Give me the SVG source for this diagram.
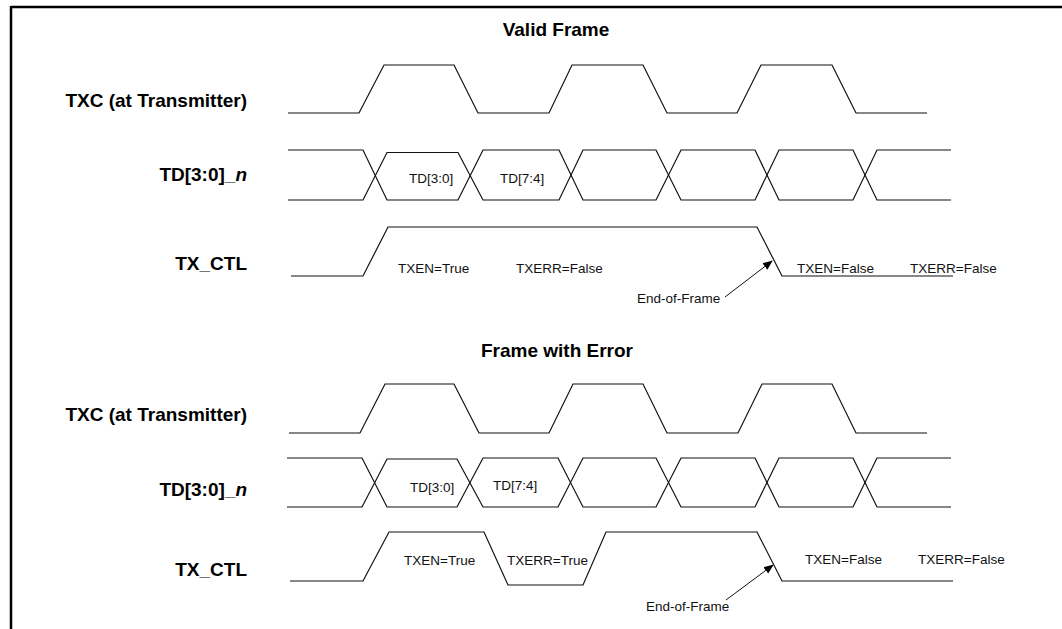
<svg xmlns="http://www.w3.org/2000/svg" width="1062" height="629" viewBox="0 0 1062 629">
<defs>
<style>
.w{fill:none;stroke:#111;stroke-width:1.2;stroke-linejoin:miter}
.b{font-family:"Liberation Sans",Arial,sans-serif;font-weight:bold;font-size:19px;fill:#000}
.t{font-family:"Liberation Sans",Arial,sans-serif;font-size:13.5px;fill:#111}
.a{fill:none;stroke:#111;stroke-width:1}
</style>
<marker id="ah" viewBox="0 0 10 10" refX="9" refY="5" markerWidth="10" markerHeight="10" markerUnits="userSpaceOnUse" orient="auto">
<path d="M0,1 L10,5 L0,9 Z" fill="#000"/>
</marker>
</defs>
<rect width="1062" height="629" fill="#fff"/>
<g id="border">
<line x1="11" y1="7" x2="1062" y2="7" stroke="#000" stroke-width="2.5"/>
<line x1="11" y1="6" x2="11" y2="629" stroke="#000" stroke-width="2.5"/>
</g>

<g id="valid-frame">
<text class="b" x="556" y="36" text-anchor="middle">Valid Frame</text>
<g id="txc-1">
<text class="b" x="247" y="107" text-anchor="end">TXC (at Transmitter)</text>
<polyline class="w" points="288,113 359,113 384,65 454,65 478,113 549,113 572,65 643,65 667,113 737,113 761,65 832,65 856,113 927,113"/>
</g>
<g id="td-1">
<text class="b" x="247" y="181" text-anchor="end">TD[3:0]_<tspan font-style="italic">n</tspan></text>
<polyline class="w" points="288,150 363,150 387,200 458,200 483,150 559,150 583,200 656,200 681,150 755,150 779,200 853,200 877,150 951,150"/>
<polyline class="w" points="288,200 363,200 387,152.5 458,152.5 483,200 559,200 583,150 656,150 681,200 755,200 779,150 853,150 877,200 951,200"/>
<text class="t" x="409" y="182.5">TD[3:0]</text>
<text class="t" x="500" y="182.5">TD[7:4]</text>
</g>
<g id="txctl-1">
<text class="b" x="247" y="270" text-anchor="end">TX_CTL</text>
<polyline class="w" points="291,276 363,276 388,227 757,227 782,276 953,276"/>
<text class="t" x="398" y="273">TXEN=True</text>
<text class="t" x="516" y="273">TXERR=False</text>
<text class="t" x="797" y="273">TXEN=False</text>
<text class="t" x="910" y="273">TXERR=False</text>
</g>
</g>

<g id="error-frame">
<text class="b" x="557" y="357" text-anchor="middle">Frame with Error</text>
<g id="txc-2">
<text class="b" x="247" y="421" text-anchor="end">TXC (at Transmitter)</text>
<polyline class="w" points="289,433 360,433 385,384 454,384 479,433 549,433 573,384 643,384 667,433 738,433 762,384 832,384 856,433 927,433"/>
</g>
<g id="td-2">
<text class="b" x="247" y="496" text-anchor="end">TD[3:0]_<tspan font-style="italic">n</tspan></text>
<polyline class="w" points="287,458 362,458 387,507 457,507 483,458 558,458 583,507 656,507 681,458 755,458 779,507 853,507 877,458 951,458"/>
<polyline class="w" points="287,507 362,507 387,459 457,459 483,507 558,507 583,458 656,458 681,507 755,507 779,458 853,458 877,507 951,507"/>
<text class="t" x="410" y="491.5">TD[3:0]</text>
<text class="t" x="493" y="489.5">TD[7:4]</text>
</g>
<g id="txctl-2">
<text class="b" x="247" y="576" text-anchor="end">TX_CTL</text>
<polyline class="w" points="290,581 363,581 389,532 484,532 508,585 583,585 606,532 757,532 782,581 953,581"/>
<text class="t" x="404" y="564.5">TXEN=True</text>
<text class="t" x="507" y="564.5">TXERR=True</text>
<text class="t" x="805" y="564">TXEN=False</text>
<text class="t" x="918" y="564">TXERR=False</text>
</g>
</g>

<g id="connectors">
<line class="a" x1="725" y1="297" x2="772" y2="261" marker-end="url(#ah)"/>
<text class="t" x="637" y="303">End-of-Frame</text>
<line class="a" x1="726" y1="600" x2="773" y2="565" marker-end="url(#ah)"/>
<text class="t" x="646" y="611">End-of-Frame</text>
</g>
</svg>
